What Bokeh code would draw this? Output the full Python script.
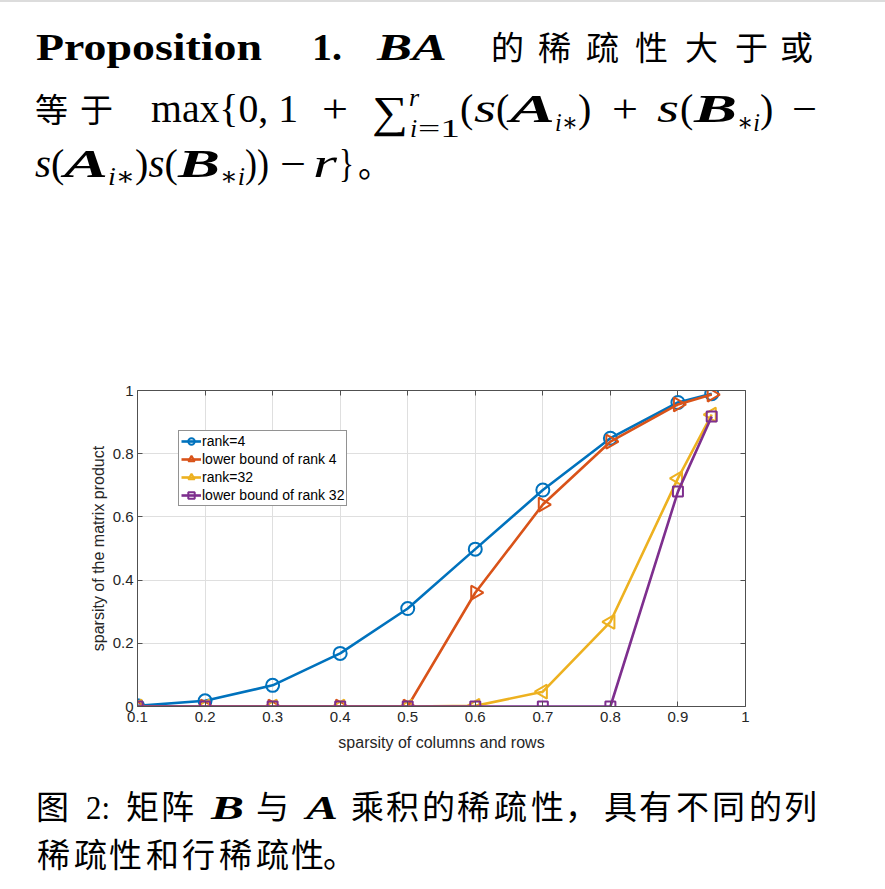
import math
from bokeh.plotting import figure
from bokeh.models import (Div, FixedTicker, LinearAxis, Legend, LegendItem, Range1d,
                          CustomJSTickFormatter)
from bokeh.layouts import column
from bokeh.embed import file_html
from bokeh.resources import INLINE

# ---------------- data ----------------
x_vals = [0.1, 0.2, 0.3, 0.4, 0.5, 0.6, 0.7, 0.8, 0.9, 0.95]
rank4 = [0.002, 0.018, 0.067, 0.168, 0.310, 0.498, 0.685, 0.849, 0.962, 0.990]
lower4 = [0.0, 0.0, 0.0, 0.0, 0.0, 0.360, 0.639, 0.838, 0.956, 0.987]
rank32 = [0.0, 0.0, 0.0, 0.0, 0.0, 0.002, 0.047, 0.268, 0.722, 0.924]
lower32 = [0.0, 0.0, 0.0, 0.0, 0.0, 0.0, 0.0, 0.0, 0.680, 0.918]

series_names = ["rank=4", "lower bound of rank 4", "rank=32", "lower bound of rank 32"]
x_ticks = [0.1, 0.2, 0.3, 0.4, 0.5, 0.6, 0.7, 0.8, 0.9, 1.0]
x_tick_labels = ["0.1", "0.2", "0.3", "0.4", "0.5", "0.6", "0.7", "0.8", "0.9", "1"]
y_ticks = [0.0, 0.2, 0.4, 0.6, 0.8, 1.0]
y_tick_labels = ["0", "0.2", "0.4", "0.6", "0.8", "1"]
x_label = "sparsity of columns and rows"
y_label = "sparsity of the matrix product"

COLORS = ["#0072BD", "#D95319", "#EDB120", "#7E2F8E"]

# ---------------- text (svg inside Div) ----------------
SERIF = "'Liberation Serif','DejaVu Serif',serif"
CJKF = "'Noto Sans CJK SC',sans-serif"


def ts(s, x, y, size, weight="normal", style="normal", length=None, fam=SERIF):
    css = f"font-family:{fam};font-size:{size}px;font-weight:{weight};font-style:{style}"
    a = f'x="{x}" y="{y}" style="{css}"'
    if length:
        a += f' textLength="{length}" lengthAdjust="spacingAndGlyphs"'
    return f"<tspan {a}>{s}</tspan>"


def tc(chars, xs, y, size):
    xs_s = " ".join(str(v) for v in xs)
    return ts(chars, xs_s, y, size, fam=CJKF)


def line(parts):
    return f'<text fill="#000" style="font-family:{SERIF}">' + "".join(parts) + "</text>"


# top paragraph (page coordinates)
L1 = [
    ts("Proposition", 36, 60, 38, weight="bold", length=226),
    ts("1.", 312, 60, 38, weight="bold", length=30),
    ts("BA", 377, 60, 38, weight="bold", style="italic", length=70),
    tc("的稀疏性大于或", [491, 538, 586, 635, 685, 735, 780], 60, 33),
]
L2 = [
    tc("等于", [35, 80], 122, 33),
    ts("max{0, 1", 151, 122, 39, length=147),
    ts("+", 322, 122, 39, length=26),
    ts("∑", 372, 127, 44, length=36),
    ts("r", 409, 106, 26, style="italic"),
    ts("i", 410, 137, 26, style="italic"),
    ts("=1", 418, 137, 26, length=42),
    ts("(", 460, 122, 40),
    ts("s", 474, 122, 39, style="italic", length=22),
    ts("(", 496, 122, 40),
    ts("A", 510, 122, 39, weight="bold", style="italic", length=45),
    ts("i∗", 555, 131, 26, style="italic", length=23),
    ts(")", 578, 122, 40),
    ts("+", 612, 122, 39, length=26),
    ts("s", 657, 122, 39, style="italic", length=22),
    ts("(", 680, 122, 40),
    ts("B", 694, 122, 39, weight="bold", style="italic", length=43),
    ts("∗i", 737, 131, 26, style="italic", length=23),
    ts(")", 760, 122, 40),
    ts("−", 792, 122, 39, length=25),
]
L3 = [
    ts("s", 35, 177, 39, style="italic", length=16),
    ts("(", 51, 177, 40),
    ts("A", 64, 177, 39, weight="bold", style="italic", length=44),
    ts("i∗", 108, 185, 26, style="italic", length=27),
    ts(")", 135, 177, 40),
    ts("s", 148.5, 177, 39, style="italic", length=16),
    ts("(", 164.5, 177, 40),
    ts("B", 178, 177, 39, weight="bold", style="italic", length=42),
    ts("∗i", 220, 185, 26, style="italic", length=25),
    ts("))", 245, 177, 40, length=24),
    ts("−", 280, 177, 39, length=26),
    ts("r", 313, 177, 39, style="italic", length=24),
    ts("}", 339, 177, 39, length=15),
    tc("。", [358], 177, 33),
]

TOP_H = 360
top_html = (f'<svg xmlns="http://www.w3.org/2000/svg" width="885" height="{TOP_H}" '
            f'style="display:block"><rect x="0" y="0" width="885" height="2" fill="#dcdcdc"/>'
            + line(L1) + line(L2) + line(L3) + "</svg>")

# caption (div top at page y 765)
CY = 765
B1 = 819 - CY
B2 = 867 - CY
C1 = [
    tc("图", [36], B1, 33),
    ts("2:", 86, B1, 34, length=24),
    tc("矩阵", [126, 161], B1, 33),
    ts("B", 211, B1, 34, weight="bold", style="italic", length=33),
    tc("与", [256], B1, 33),
    ts("A", 306, B1, 34, weight="bold", style="italic", length=32),
    tc("乘积的稀疏性，具有不同的列",
       [351, 386, 422, 457, 494, 531, 565, 604, 639, 676, 712, 749, 784], B1, 33),
]
C2 = [tc("稀疏性和行稀疏性。", [37, 74, 109, 146, 182, 219, 256, 291, 323], B2, 33)]
CAP_H = 116
cap_html = (f'<svg xmlns="http://www.w3.org/2000/svg" width="877" height="{CAP_H}" '
            f'style="display:block">' + line(C1) + line(C2) + "</svg>")

top_div = Div(text=top_html, width=885, height=TOP_H, margin=0)
cap_div = Div(text=cap_html, width=877, height=CAP_H, margin=0)

# ---------------- chart ----------------
SANS = "Liberation Sans"
AX = "#262626"
AXL = "#505050"

p = figure(width=877, height=405, x_range=Range1d(0.1, 1.0), y_range=Range1d(0.0, 1.0),
           output_backend="svg", toolbar_location=None,
           min_border_left=137, min_border_right=132, min_border_top=30, min_border_bottom=59,
           background_fill_color="white", border_fill_color="white", outline_line_color=None)

xt = FixedTicker(ticks=x_ticks)
yt = FixedTicker(ticks=y_ticks)
p.xaxis.ticker = xt
p.yaxis.ticker = yt
p.xaxis.major_label_overrides = {t: l for t, l in zip(x_ticks, x_tick_labels)}
p.yaxis.major_label_overrides = {t: l for t, l in zip(y_ticks, y_tick_labels)}
p.xgrid.ticker = xt
p.ygrid.ticker = yt
p.grid.grid_line_color = "#dfdfdf"
p.grid.grid_line_width = 1

for ax in (p.xaxis[0], p.yaxis[0]):
    ax.major_tick_in = 5
    ax.major_tick_out = 0
    ax.minor_tick_line_color = None
    ax.axis_line_color = AXL
    ax.major_tick_line_color = AXL
    ax.major_label_text_font = SANS
    ax.major_label_text_font_size = "15px"
    ax.major_label_text_color = AX
    ax.axis_label_text_font = SANS
    ax.axis_label_text_font_size = "16px"
    ax.axis_label_text_font_style = "normal"
    ax.axis_label_text_color = AX
p.xaxis.axis_label = x_label
p.yaxis.axis_label = y_label
p.xaxis.major_label_standoff = 5
p.xaxis.axis_label_standoff = 9
p.yaxis.major_label_standoff = 4
p.yaxis.axis_label_standoff = 3

blank = CustomJSTickFormatter(code="return ''")
for loc, tk in (("above", xt), ("right", yt)):
    a = LinearAxis(ticker=tk, major_tick_in=5, major_tick_out=0, minor_tick_line_color=None,
                   axis_line_color=AXL, major_tick_line_color=AXL,
                   formatter=blank, major_label_standoff=0)
    p.add_layout(a, loc)

markers = [("circle", 13, 0.0), ("triangle", 14, -math.pi / 2), ("triangle", 14, math.pi / 2),
           ("square", 10, 0.0)]
series = [rank4, lower4, rank32, lower32]
items = []
for name, ys, col, (mk, sz, ang) in zip(series_names, series, COLORS, markers):
    lr = p.line(x_vals, ys, line_color=col, line_width=2.6)
    sr = p.scatter(x_vals, ys, marker=mk, size=sz, angle=ang, line_color=col, line_width=2,
                   fill_color=None)
    items.append(LegendItem(label=name, renderers=[lr, sr]))

legend = Legend(items=items, location=(41, 200), label_text_font=SANS,
                label_text_font_size="14px", label_text_color="#000",
                glyph_width=20, glyph_height=16, label_height=16, label_standoff=1,
                spacing=2, padding=2, margin=0, border_line_color="#262626",
                border_line_width=1, background_fill_color="white", background_fill_alpha=1)
p.add_layout(legend)

layout = column(top_div, p, cap_div, spacing=0)

with open("out.html", "w", encoding="utf-8") as f:
    f.write(file_html(layout, INLINE))
